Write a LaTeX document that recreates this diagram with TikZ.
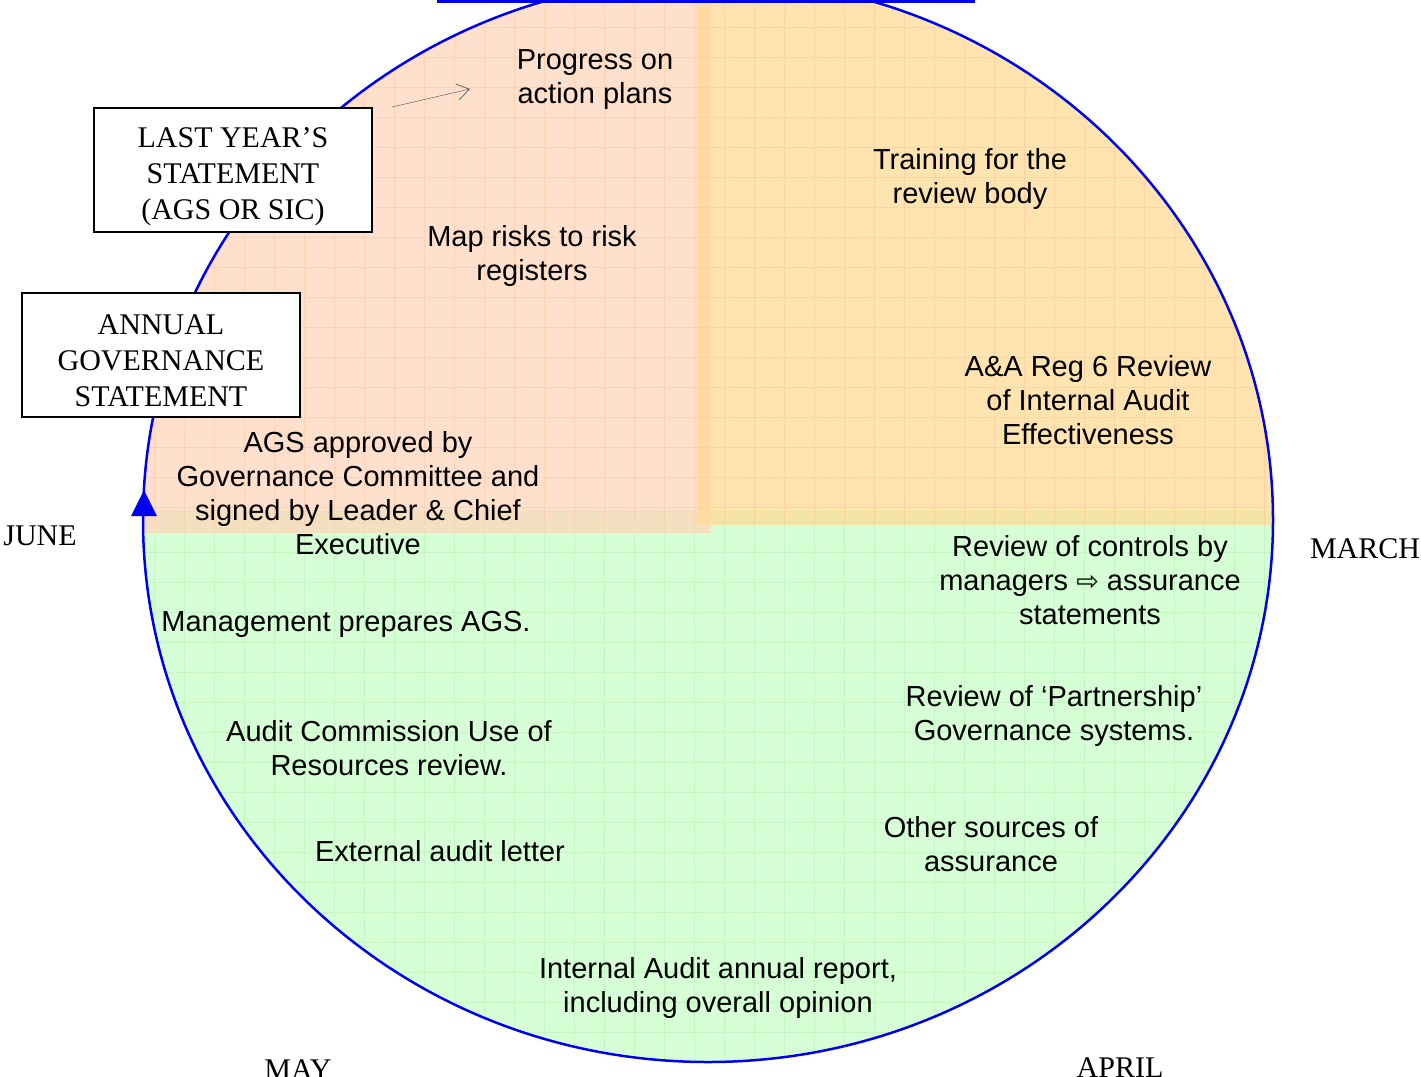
\documentclass[tikz,border=0pt]{standalone}
\usepackage{fontspec}
\setmainfont{Liberation Sans}
\newfontfamily\seriffont{Liberation Serif}
\newfontfamily\symfont{DejaVu Sans}
\usetikzlibrary{arrows.meta}
\definecolor{peach}{RGB}{255,214,187}
\definecolor{orng}{RGB}{255,219,150}
\definecolor{grn}{RGB}{214,255,214}
\definecolor{blueline}{RGB}{0,0,240}
\definecolor{gridor}{RGB}{255,195,155}
\definecolor{gridgr}{RGB}{196,246,196}
\begin{document}
\begin{tikzpicture}[x=1pt,y=-1pt,
  txt/.style={align=center, font=\fontsize{29}{34}\selectfont, inner sep=0pt},
  boxframe/.style={draw, fill=white, line width=1.6pt, minimum width=278pt, minimum height=124pt, inner sep=0pt},
  boxtext/.style={align=center, font=\seriffont\fontsize{30}{36}\selectfont, inner sep=0pt},
  month/.style={font=\seriffont\fontsize{30}{36}\selectfont, inner sep=0pt}]
\useasboundingbox (0,0) rectangle (1421,1076);
\clip (0,0) rectangle (1421,1076);
% quadrant fills
\begin{scope}
\clip (708,520) ellipse [x radius=565, y radius=542];
\fill[grn] (0,510) rectangle (1421,1100);
\foreach \k in {0,...,48} {\draw[gridgr, line width=0.8pt] (\k*30+4,510) -- (\k*30+4,1100);}
\foreach \k in {0,...,20} {\draw[gridgr, line width=0.8pt] (0,510+\k*30+12) -- (1421,510+\k*30+12);}
\fill[peach, fill opacity=0.75] (0,-30) rectangle (711,533);
\fill[orng, fill opacity=0.75] (697,-30) rectangle (1421,525);
\begin{scope}
\clip (0,-30) rectangle (1421,525);
\foreach \k in {0,...,48} {\draw[gridor, line width=0.8pt, opacity=0.5] (\k*30+4,-30) -- (\k*30+4,525);}
\foreach \k in {0,...,19} {\draw[gridor, line width=0.8pt, opacity=0.5] (0,\k*30-3) -- (1421,\k*30-3);}
\end{scope}
\end{scope}
% outline
\draw[blueline, line width=2.5pt] (708,520) ellipse [x radius=565, y radius=542];
\draw[blueline, line width=3pt] (437,1) -- (975,1);
\fill[blueline] (144,490) -- (131,516) -- (157,516) -- cycle;
% small arrow
\coordinate (ga) at (392,107);
\coordinate (gb) at (470,89);
\draw[gray!80!black, line width=0.5pt, -{Straight Barb[length=12pt,width=16pt,line width=0.8pt]}] (ga) -- (gb);
% boxes
\node[boxframe] (lysbox) at (233,170) {};
\node[boxtext] (lys) at (233,177) {LAST YEAR’S\\STATEMENT\\(AGS OR SIC)};
\node[boxframe] (agsbox) at (161,355) {};
\node[boxtext] (ags) at (161,361) {ANNUAL\\GOVERNANCE\\STATEMENT};
% months
\node[month] (june) at (40,536) {JUNE};
\node[month] (march) at (1365,549) {MARCH};
\node[month] (may) at (298,1070) {MAY};
\node[month] (april) at (1120,1068) {APRIL};
% texts
\node[txt] (t1) at (595,80) {Progress on\\action plans};
\node[txt] (t2) at (970,179) {Training for the\\review body};
\node[txt] (t3) at (532,256) {Map risks to risk\\registers};
\node[txt] (t4) at (1088,400) {A\&A Reg 6 Review\\of Internal Audit\\Effectiveness};
\node[txt] (t5) at (358,493) {AGS approved by\\Governance Committee and\\signed by Leader \& Chief\\Executive};
\node[txt] (t6) at (1090,580) {Review of controls by\\managers {\symfont\fontsize{27}{34}\selectfont ⇨} assurance\\statements};
\node[txt] (t7) at (346,624) {Management prepares AGS.};
\node[txt] (t8) at (1054,716) {Review of ‘Partnership’\\Governance systems.};
\node[txt] (t9) at (389,748) {Audit Commission Use of\\Resources review.};
\node[txt] (t10) at (991,844) {Other sources of\\assurance};
\node[txt] (t11) at (440,851) {External audit letter};
\node[txt] (t12) at (718,988) {Internal Audit annual report,\\including overall opinion};
\end{tikzpicture}
\end{document}
